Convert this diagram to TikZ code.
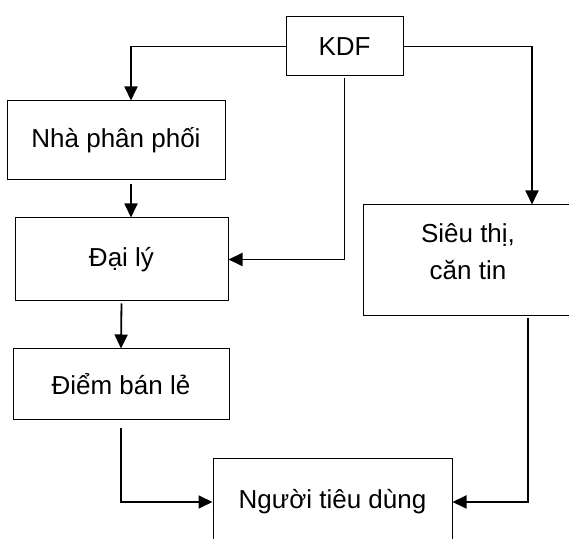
\documentclass[tikz,border=0pt]{standalone}
\usepackage{fontspec}
\setmainfont{Liberation Sans}
\usetikzlibrary{
  positioning,
  arrows.meta,
  calc
}

\begin{document}
\begin{tikzpicture}[
  x=0.5pt, y=-0.5pt,
  box/.style={draw, rectangle, line width=0.5pt, align=center, inner sep=0pt, font=\fontsize{13}{18.5}\selectfont},
  label/.style={align=center, inner sep=0pt, font=\fontsize{13}{18.5}\selectfont},
  arrow/.style={-{Triangle[length=7pt, width=6.5pt]}, line width=0.9pt}
]

\useasboundingbox (0,0) rectangle (569,539);

% Boxes
\node[box, minimum width=58.5pt, minimum height=29.5pt] (kdf) at (344.5,46.5) {KDF};
\node[box, minimum width=109pt, minimum height=39.5pt] (npp) at (116,140.5) {Nhà phân phối};
\node[box, minimum width=106.5pt, minimum height=41.5pt] (daily) at (121.5,259.5) {Đại lý};
\node[box, minimum width=108pt, minimum height=35.5pt] (diem) at (121,384.5) {Điểm bán lẻ};
\node[box, minimum width=105pt, minimum height=55.5pt] (sieuthi) at (468,260.5) {};
\node[label] (sieutext) at ([yshift=4.5pt]sieuthi.center) {Siêu thị,\\căn tin};
\node[box, minimum width=119.5pt, minimum height=43pt] (nguoi) at (332.5,502) {Người tiêu dùng};

% Bends
\coordinate (bleft) at (131,46.5);
\coordinate (bright) at (532,46.5);
\coordinate (bdown) at (528,502);

% Arrows
\draw[arrow] (kdf.west) -- (bleft) -- (bleft |- npp.north);
\draw[arrow] (kdf.east) -- (bright) -- (bright |- sieuthi.north);
\draw[arrow, shorten <=1pt] (kdf.south) |- (daily.east);

\draw[arrow, shorten <=2pt] (npp.south -| bleft) -- (daily.north -| bleft);
\draw[arrow, shorten <=1pt] (daily.south) -- (diem.north);
\draw[arrow, shorten <=4pt] (diem.south) |- (nguoi.west);

\draw[arrow, shorten <=1pt] (sieuthi.south -| bdown) -- (bdown) -- (nguoi.east);

\end{tikzpicture}
\end{document}
